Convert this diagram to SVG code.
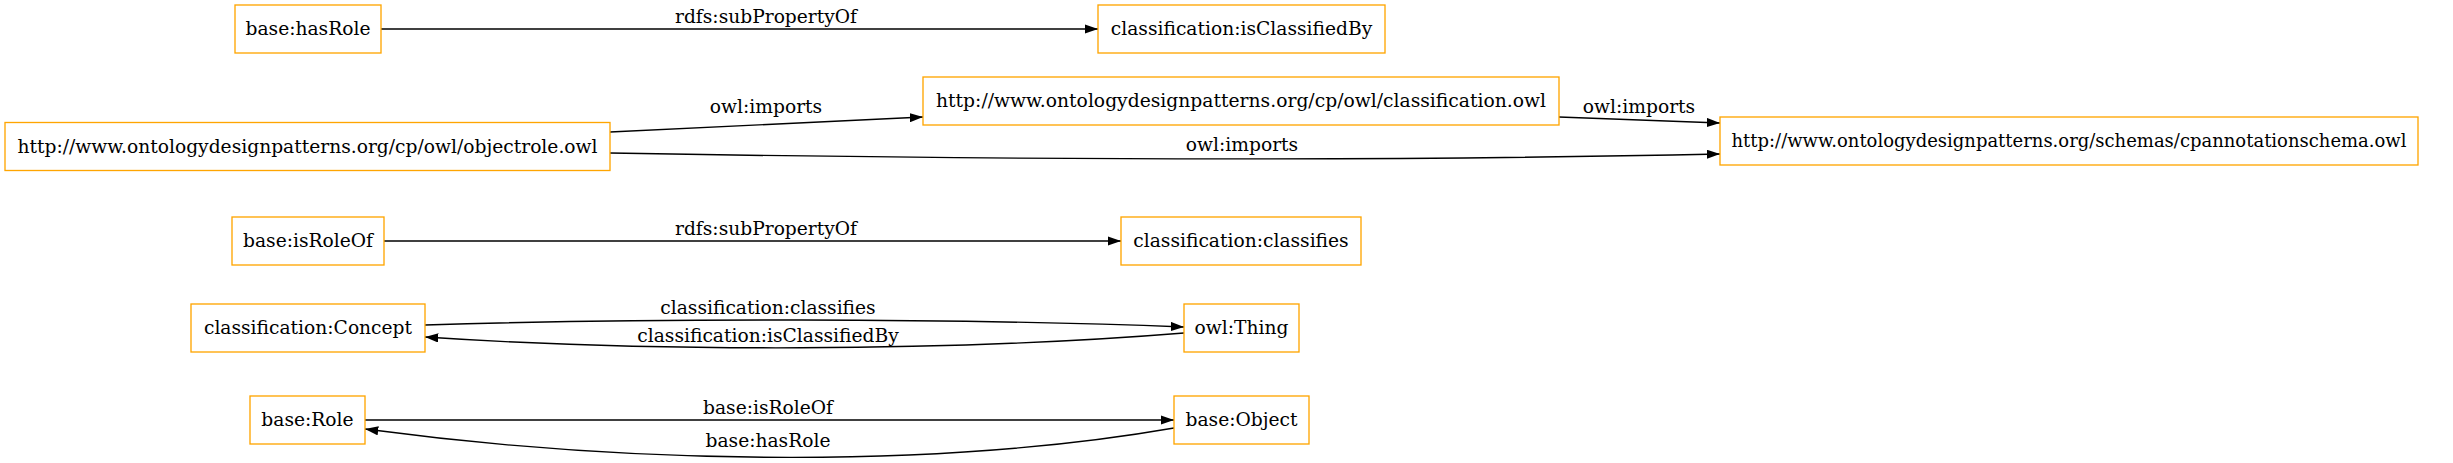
<svg xmlns="http://www.w3.org/2000/svg" width="2453" height="463" viewBox="0 0 2453 463">
<style>
.n rect{fill:#ffffff;stroke:#ffa500;stroke-width:1.33}
text{font-family:"DejaVu Serif","Liberation Serif",serif;font-size:18.67px;fill:#000000;text-anchor:middle}
.e path{fill:none;stroke:#000000;stroke-width:1.33;marker-end:url(#arr)}
</style>
<defs>
<marker id="arr" viewBox="0 0 10 7" refX="10" refY="3.5" markerWidth="13.3" markerHeight="9.3" markerUnits="userSpaceOnUse" orient="auto">
<path d="M0,0 L10,3.5 L0,7 Z" fill="#000000"/>
</marker>
</defs>
<rect width="2453" height="463" fill="#ffffff"/>
<g id="edges" class="e">
<path d="M381,29 L1098,29"/>
<path d="M610,132 L923,117"/>
<path d="M1559,117 L1720,123"/>
<path d="M610,153 C1000,160 1400,161 1720,154"/>
<path d="M384,241 L1121,241"/>
<path d="M425,325 C650,318 950,318 1184,327"/>
<path d="M1184,333 C950,352 650,352 425,337"/>
<path d="M365,420 L1174,420"/>
<path d="M1174,428 C950,467 650,467 365,429"/>
<text x="766" y="23">rdfs:subPropertyOf</text>
<text x="766" y="113">owl:imports</text>
<text x="1639" y="113">owl:imports</text>
<text x="1242" y="151">owl:imports</text>
<text x="766" y="235">rdfs:subPropertyOf</text>
<text x="768" y="314">classification:classifies</text>
<text x="768" y="342">classification:isClassifiedBy</text>
<text x="768" y="414">base:isRoleOf</text>
<text x="768" y="447">base:hasRole</text>
</g>
<g id="n_hasRole" class="n"><rect x="235" y="5" width="146" height="48"/><text x="308" y="35">base:hasRole</text></g>
<g id="n_isClassifiedBy" class="n"><rect x="1098" y="5" width="287" height="48"/><text x="1241.5" y="35">classification:isClassifiedBy</text></g>
<g id="n_objectrole" class="n"><rect x="5" y="122.5" width="605" height="48"/><text x="307.5" y="152.5" textLength="580" lengthAdjust="spacingAndGlyphs">http://www.ontologydesignpatterns.org/cp/owl/objectrole.owl</text></g>
<g id="n_classification" class="n"><rect x="923" y="77" width="636" height="48"/><text x="1241" y="107" textLength="610" lengthAdjust="spacingAndGlyphs">http://www.ontologydesignpatterns.org/cp/owl/classification.owl</text></g>
<g id="n_cpannotation" class="n"><rect x="1720" y="117" width="698" height="48"/><text x="2069" y="147" textLength="675" lengthAdjust="spacingAndGlyphs">http://www.ontologydesignpatterns.org/schemas/cpannotationschema.owl</text></g>
<g id="n_isRoleOf" class="n"><rect x="232" y="217" width="152" height="48"/><text x="308" y="247">base:isRoleOf</text></g>
<g id="n_classifies" class="n"><rect x="1121" y="217" width="240" height="48"/><text x="1241" y="247">classification:classifies</text></g>
<g id="n_Concept" class="n"><rect x="191" y="304" width="234" height="48"/><text x="308" y="334">classification:Concept</text></g>
<g id="n_Thing" class="n"><rect x="1184" y="304" width="115" height="48"/><text x="1241.5" y="334">owl:Thing</text></g>
<g id="n_Role" class="n"><rect x="250" y="396" width="115" height="48"/><text x="307.5" y="426">base:Role</text></g>
<g id="n_Object" class="n"><rect x="1174" y="396" width="135" height="48"/><text x="1241.5" y="426">base:Object</text></g>
</svg>
